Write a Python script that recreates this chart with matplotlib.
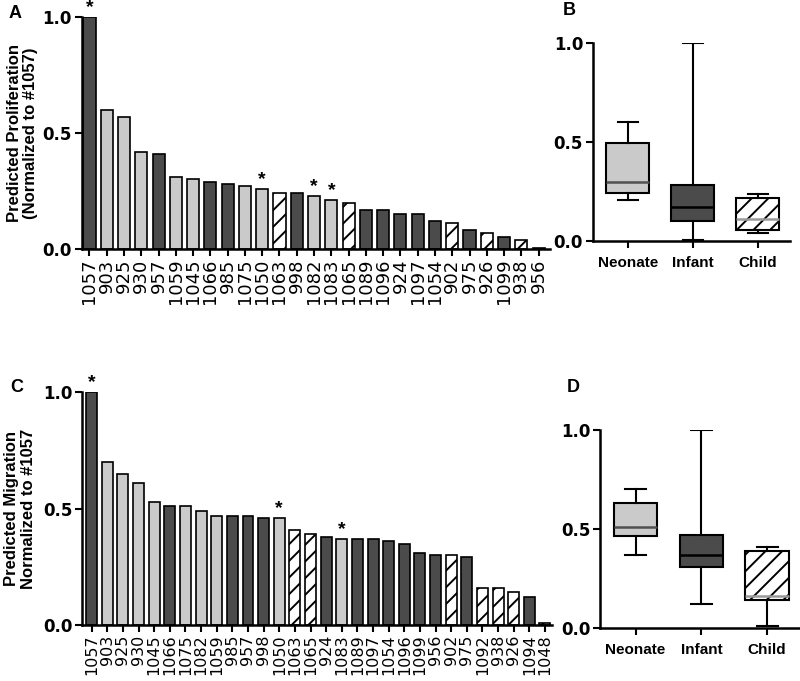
import numpy as np
import matplotlib
matplotlib.use("Agg")
import matplotlib.pyplot as plt

plt.rcParams['font.family'] = ['Liberation Sans', 'DejaVu Sans']
plt.rcParams['hatch.linewidth'] = 1.4

# ---------------- data ----------------
prolif_labels = ["1057", "903", "925", "930", "957", "1059", "1045", "1066", "985", "1075",
                 "1050", "1063", "998", "1082", "1083", "1065", "1089", "1096", "924", "1097",
                 "1054", "902", "975", "926", "1099", "938", "956"]
prolif_values = [1.00, 0.60, 0.57, 0.42, 0.41, 0.31, 0.30, 0.29, 0.28, 0.27,
                 0.26, 0.24, 0.24, 0.23, 0.21, 0.20, 0.17, 0.17, 0.15, 0.15,
                 0.12, 0.11, 0.08, 0.07, 0.05, 0.04, 0.005]
prolif_groups = ["I", "N", "N", "N", "I", "N", "N", "I", "I", "N",
                 "N", "C", "I", "N", "N", "C", "I", "I", "I", "I",
                 "I", "C", "I", "C", "I", "C", "I"]
prolif_stars = ["1057", "1050", "1082", "1083"]

migr_labels = ["1057", "903", "925", "930", "1045", "1066", "1075", "1082", "1059", "985",
               "957", "998", "1050", "1063", "1065", "924", "1083", "1089", "1097", "1054",
               "1096", "1099", "956", "902", "975", "1092", "938", "926", "1094", "1048"]
migr_values = [1.00, 0.70, 0.65, 0.61, 0.53, 0.51, 0.51, 0.49, 0.47, 0.47,
               0.47, 0.46, 0.46, 0.41, 0.39, 0.38, 0.37, 0.37, 0.37, 0.36,
               0.35, 0.31, 0.30, 0.30, 0.29, 0.16, 0.16, 0.14, 0.12, 0.01]
migr_groups = ["I", "N", "N", "N", "N", "I", "N", "N", "N", "I",
               "I", "I", "N", "C", "C", "I", "N", "I", "I", "I",
               "I", "I", "I", "C", "I", "C", "C", "C", "I", "C"]
migr_stars = ["1057", "1050", "1083"]

group_names = ["Neonate", "Infant", "Child"]
group_codes = ["N", "I", "C"]

LIGHT = "#cacaca"
DARK = "#4b4b4b"
face = {"N": LIGHT, "I": DARK, "C": "white"}
hatch = {"N": None, "I": None, "C": "//"}
median_col = {"N": "#505050", "I": "black", "C": "#9a9a9a"}

TICKFONT = dict(family=["DejaVu Sans"], size=12, weight="bold")


def style_axes(ax):
    for s in ["top", "right"]:
        ax.spines[s].set_visible(False)
    for s in ["left", "bottom"]:
        ax.spines[s].set_linewidth(1.8)
    ax.set_ylim(0, 1.0)
    ax.set_yticks([0, 0.5, 1.0])
    ax.set_yticklabels(["0.0", "0.5", "1.0"], fontdict=TICKFONT)
    ax.tick_params(axis="both", width=1.5, length=5, pad=2)


def bar_panel(ax, labels, values, groups, stars, xlim, ylabel, fs, lpad):
    x = np.arange(len(labels))
    for xi, v, g in zip(x, values, groups):
        ax.bar(xi, v, width=0.7, color=face[g], edgecolor="black",
               linewidth=1.2, hatch=hatch[g], zorder=2)
    for xi, lab, v in zip(x, labels, values):
        if lab in stars:
            ax.text(xi, v + 0.004, "*", ha="center", va="bottom", fontsize=14,
                    fontweight="bold", clip_on=False)
    ax.set_xlim(*xlim)
    style_axes(ax)
    ax.set_xticks(x)
    ax.set_xticklabels(labels, rotation=90, fontsize=fs, family=["DejaVu Sans"])
    ax.set_ylabel(ylabel, fontsize=12, fontweight="bold", labelpad=lpad,
                  linespacing=1.15)


def box_panel(ax, values, groups):
    stats = []
    for g, name in zip(group_codes, group_names):
        d = np.array([v for v, gg in zip(values, groups) if gg == g])
        q1, med, q3 = np.percentile(d, [25, 50, 75], method="weibull")
        stats.append(dict(label=name, whislo=d.min(), q1=q1, med=med, q3=q3,
                          whishi=d.max(), fliers=[]))
    bp = ax.bxp(stats, positions=[0, 1, 2], widths=0.66, patch_artist=True,
                showfliers=False,
                boxprops=dict(linewidth=1.5, edgecolor="black"),
                whiskerprops=dict(linewidth=1.5),
                capprops=dict(linewidth=1.5),
                medianprops=dict(linewidth=1.8, color="black"))
    for patch, med, g in zip(bp["boxes"], bp["medians"], group_codes):
        patch.set_facecolor(face[g])
        if hatch[g]:
            patch.set_hatch(hatch[g])
        med.set_color(median_col[g])
    for cap in bp["caps"]:
        c = np.mean(cap.get_xdata())
        cap.set_xdata([c - 0.16, c + 0.16])
    ax.set_xlim(-0.54, 2.5)
    style_axes(ax)
    ax.set_xticks([0, 1, 2])
    ax.set_xticklabels(group_names, fontsize=11, fontweight="bold")
    ax.tick_params(axis="x", pad=6)


fig = plt.figure(figsize=(8.0, 6.81), dpi=100)
axA = fig.add_axes([0.1021, 0.6344, 0.585, 0.3407])
axB = fig.add_axes([0.741, 0.646, 0.247, 0.2907])
axC = fig.add_axes([0.1025, 0.0822, 0.5875, 0.342])
axD = fig.add_axes([0.75, 0.0778, 0.25, 0.2907])

bar_panel(axA, prolif_labels, prolif_values, prolif_groups, prolif_stars,
          (-0.45, 26.64), "Predicted Proliferation\n(Normalized to #1057)", 13, 3)
bar_panel(axC, migr_labels, migr_values, migr_groups, migr_stars,
          (-0.62, 29.45), "Predicted Migration\nNormalized to #1057", 11.5, 5)
box_panel(axB, prolif_values, prolif_groups)
box_panel(axD, migr_values, migr_groups)

for lab, (x, y) in zip("ABCD", [(0.011, 0.9736), (0.704, 0.978), (0.0125, 0.4244), (0.709, 0.4244)]):
    fig.text(x, y, lab, fontsize=13, fontweight="bold", ha="left", va="baseline")

fig.savefig("out.png", dpi=100)
